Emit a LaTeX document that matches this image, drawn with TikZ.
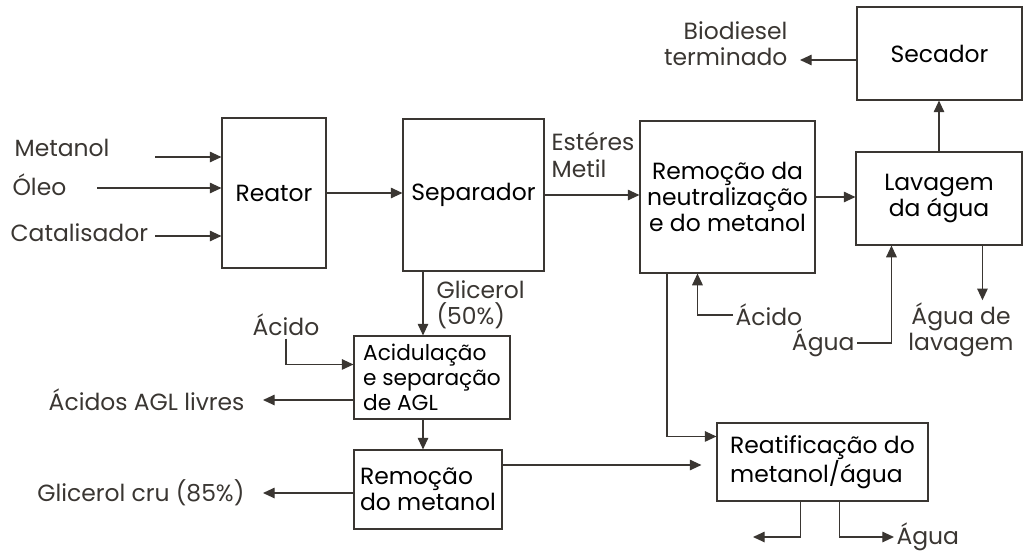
\documentclass[tikz,border=0pt]{standalone}
\usepackage{fontspec}
\setmainfont{Poppins}
\usepackage{tikz}
\usetikzlibrary{arrows.meta,calc,positioning}
\definecolor{ink}{RGB}{58,54,50}

\tikzset{
	unit/.style={draw=ink, line width=0.9pt, align=center, inner sep=2pt},
	lbl/.style={text=ink, inner sep=2pt},
	flow/.style={draw=ink, line width=1.2pt, -{Triangle[length=10pt,width=9pt]}},
}

\begin{document}
\begin{tikzpicture}[x=0.03cm, y=-0.03cm, font=\fontsize{20}{22.5}\selectfont]
			
			\useasboundingbox (0,0) rectangle (1026,552);
			
			% blocos
			\node[unit, minimum width=3.12cm, minimum height=4.5cm] (reator) at (274,193) {Reator};
			\node[unit, minimum width=4.23cm, minimum height=4.56cm] (sep) at (473.5,195) {Separador};
			\node[unit, minimum width=5.25cm, minimum height=4.56cm] (neut) at (727.5,197) {Remoção da\\neutralização\\e do metanol};
			\node[unit, minimum width=4.98cm, minimum height=2.79cm] (lav) at (939,198.5) {Lavagem\\da água};
			\node[unit, minimum width=4.95cm, minimum height=2.79cm] (sec) at (939.5,53.5) {Secador};
			\node[unit, align=left, minimum width=4.68cm, minimum height=2.49cm, font=\fontsize{18.5}{21.5}\selectfont] (acid) at (432,377.5) {Acidulação\\e separação\\de AGL};
			\node[unit, align=left, minimum width=4.44cm, minimum height=2.37cm] (remmet) at (428,489.5) {Remoção\\do metanol};
			\node[unit, align=left, minimum width=6.33cm, minimum height=2.34cm] (reat) at (822.5,462) {Reatificação do\\metanol/água};
			
			% entradas e saidas
			\node[lbl, anchor=west] (metanol) at (12,148) {Metanol};
			\node[lbl, anchor=west] (oleo) at (10,185) {Óleo};
			\node[lbl, anchor=west] (catal) at (8,233) {Catalisador};
			\node[lbl, anchor=west, align=left] (esteres) at (549,155) {Estéres\\Metil};
			\node[lbl, anchor=east, align=right] (biodiesel) at (790,44) {Biodiesel\\terminado};
			\node[lbl, anchor=west] (acidoneut) at (733,315) {Ácido};
			\node[lbl, anchor=east] (aguain) at (857,343) {Água};
			\node[lbl, align=center] (agualav) at (961,330) {Água de\\lavagem};
			\node[lbl, anchor=west, align=left] (glic) at (434,305) {Glicerol\\(50\%)};
			\node[lbl] (acidoacid) at (286,325) {Ácido};
			\node[lbl, anchor=east] (livres) at (247,400) {Ácidos AGL livres};
			\node[lbl, anchor=east] (cru) at (247,493) {Glicerol cru (85\%)};
			\node[lbl, anchor=west] (aguaout) at (894,537) {Água};
			
			\coordinate (metanol-in) at (155,157);
			\coordinate (oleo-in) at (97,188);
			\coordinate (catal-in) at (155,236);
			\coordinate (bio-end) at (800,60);
			\coordinate (glic-x) at (423,0);
			\coordinate (neut-x) at (667,0);
			\coordinate (rem-y) at (0,465);
			\coordinate (reat-out) at (753,537);
			\coordinate (acid-in) at ($(acid.north west)+(0,29)$);
			\coordinate (neut-in) at ($(neut.south west)+(58,0)$);
			\coordinate (lav-in) at ($(lav.south west)+(36,0)$);
			\coordinate (lav-out) at ($(lav.south west)+(127,0)$);
			\coordinate (reat-in) at ($(reat.north west)+(0,14)$);
			\coordinate (reat-a) at ($(reat.south west)+(84,0)$);
			\coordinate (reat-b) at ($(reat.south west)+(123,0)$);
			
			% linha principal
			\draw[flow] (metanol-in) -- (metanol-in -| reator.west);
			\draw[flow] (oleo-in) -- (oleo-in -| reator.west);
			\draw[flow] (catal-in) -- (catal-in -| reator.west);
			\draw[flow] (reator) -- (reator -| sep.west);
			\draw[flow] (sep) -- (sep -| neut.west);
			\draw[flow] (neut) -- (neut -| lav.west);
			\draw[flow] (lav.north) -- (lav.north |- sec.south);
			\draw[flow] (bio-end -| sec.west) -- (bio-end);
			\draw[flow] (acidoneut.west) -| (neut-in);
			\draw[flow] (aguain.east) -| (lav-in);
			\draw[flow] (lav-out) -- (lav-out |- agualav.north);
			
			% glicerol
			\draw[flow] (sep.south -| glic-x) -- (acid.north -| glic-x);
			\draw[flow] (acidoacid.south) |- (acid-in);
			\draw[flow, shorten >=0.48cm] (livres.east -| acid.west) -- (livres.east);
			\draw[flow] (acid.south -| glic-x) -- (remmet.north -| glic-x);
			\draw[flow, shorten >=0.48cm] (cru.east -| remmet.west) -- (cru.east);
			
			% metanol recuperado
			\draw[flow, shorten >=0.45cm] (remmet.east |- rem-y) -- (reat.west |- rem-y);
			\draw[flow] (neut.south -| neut-x) |- (reat-in);
			\draw[flow] (reat-a) |- (reat-out);
			\draw[flow] (reat-b) |- (aguaout.west);
			
\end{tikzpicture}
\end{document}
